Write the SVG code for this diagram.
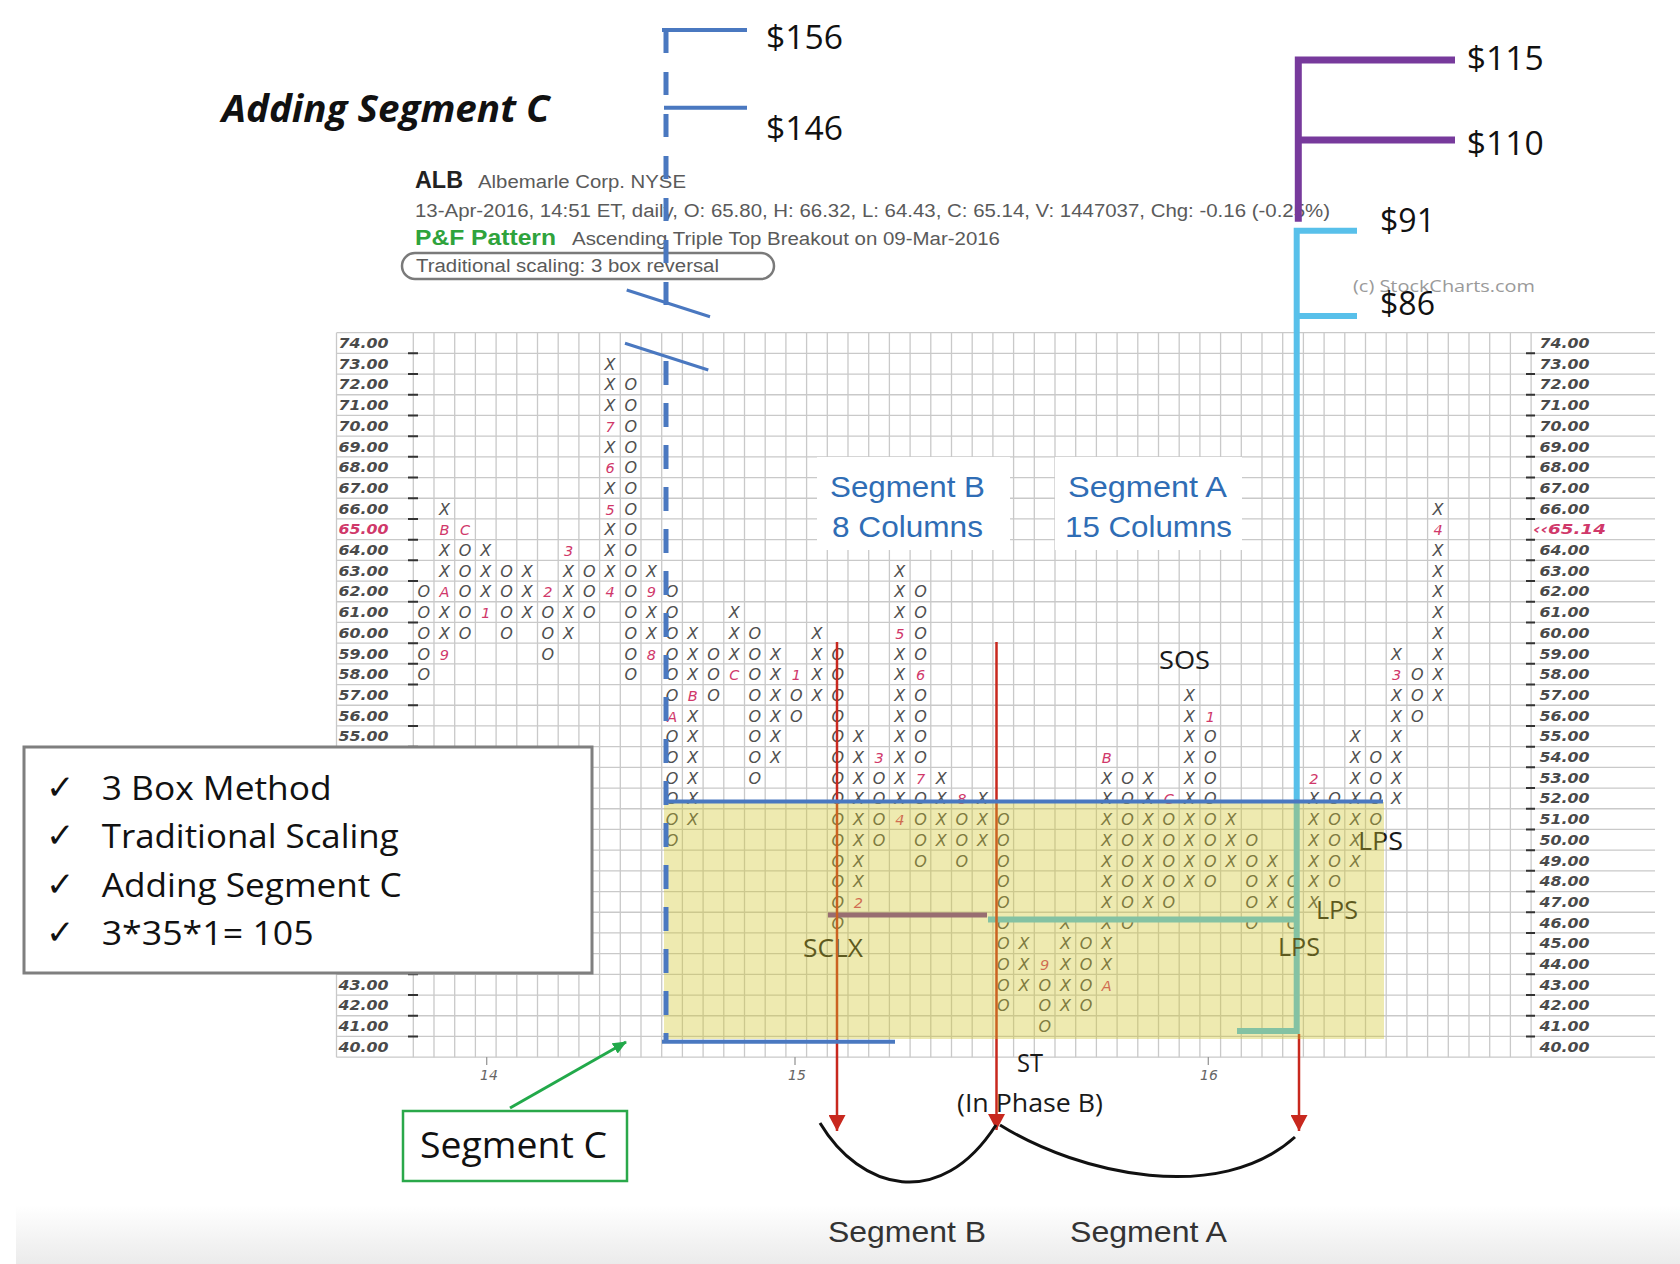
<svg xmlns="http://www.w3.org/2000/svg" width="1680" height="1264" viewBox="0 0 1680 1264">
<defs>
<style>
.g{font-family:"DejaVu Sans",sans-serif;font-style:italic;font-size:16px;fill:#505050;text-anchor:middle}
.rt{font-size:14.5px;fill:#d0386a}
.ax{font-family:"DejaVu Sans",sans-serif;font-style:italic;font-weight:bold;font-size:14px;fill:#4a4a4a}
.axr{font-family:"DejaVu Sans",sans-serif;font-style:italic;font-weight:bold;font-size:14px;fill:#d0386a}
.hd{font-family:"Liberation Sans",Arial,sans-serif;font-size:18px;fill:#5a5a5a}
.cal{font-family:"Open Sans","Noto Sans","Liberation Sans",sans-serif;fill:#111}
.hel{font-family:"Liberation Sans",Arial,sans-serif}
.seg{font-family:"Liberation Sans",Arial,sans-serif;font-size:30px;fill:#2f6db5}
.dl{font-family:"Open Sans","Noto Sans","Liberation Sans",sans-serif;font-size:32px;fill:#111}
.lb{font-family:"Open Sans","Noto Sans","Liberation Sans",sans-serif;font-size:25px;fill:#1a1a1a}
.xl{font-family:"DejaVu Sans",sans-serif;font-style:italic;font-size:14px;fill:#666}
.ck{font-family:"DejaVu Sans",sans-serif;font-size:34px;font-weight:bold;fill:#111}
</style>
<linearGradient id="band" x1="0" y1="0" x2="0" y2="1"><stop offset="0" stop-color="#ffffff"/><stop offset="1" stop-color="#ebebeb"/></linearGradient>
<marker id="ar" markerUnits="userSpaceOnUse" markerWidth="16" markerHeight="17" viewBox="0 0 16 17" refX="16" refY="8.5" orient="auto"><path d="M0 0L16 8.5L0 17z" fill="#c8281e"/></marker>
<marker id="ag" markerUnits="userSpaceOnUse" markerWidth="14" markerHeight="12" viewBox="0 0 14 12" refX="13" refY="6" orient="auto"><path d="M0 0L14 6L0 12z" fill="#22a94a"/></marker>
</defs>
<rect width="1680" height="1264" fill="#ffffff"/>
<rect x="16" y="1205" width="1664" height="59" fill="url(#band)"/>

<g id="title"><text class="cal" x="221.7" y="121.7" font-size="38" font-weight="bold" font-style="italic" textLength="328" lengthAdjust="spacingAndGlyphs">Adding Segment C</text></g>

<g id="header">
<text class="hel" x="415" y="188" font-size="23" font-weight="bold" fill="#222" textLength="48" lengthAdjust="spacingAndGlyphs">ALB</text>
<text class="hd" x="478" y="188" textLength="208" lengthAdjust="spacingAndGlyphs">Albemarle Corp.  NYSE</text>
<text class="hd" x="415" y="216.7" textLength="915" lengthAdjust="spacingAndGlyphs">13-Apr-2016, 14:51 ET, daily, O: 65.80, H: 66.32, L: 64.43, C: 65.14, V: 1447037, Chg: -0.16 (-0.25%)</text>
<text class="hel" x="415" y="245" font-size="22" font-weight="bold" fill="#2fa33c" textLength="141" lengthAdjust="spacingAndGlyphs">P&amp;F Pattern</text>
<text class="hd" x="572" y="245" textLength="428" lengthAdjust="spacingAndGlyphs">Ascending Triple Top Breakout on 09-Mar-2016</text>
<rect x="402" y="253" width="372" height="26" rx="13" fill="none" stroke="#7a7a7a" stroke-width="2.5"/>
<text class="hd" x="416" y="272" textLength="303" lengthAdjust="spacingAndGlyphs">Traditional scaling: 3 box reversal</text>
<text class="cal" x="1353" y="291.7" font-size="17" style="fill:#9a9a9a" textLength="182" lengthAdjust="spacingAndGlyphs">(c) StockCharts.com</text>
</g>

<g id="grid" fill="none" stroke="#c9c9c9" stroke-width="1.3">
<path d="M336.5 332.65H1655M336.5 353.35H1655M336.5 374.05H1655M336.5 394.75H1655M336.5 415.45H1655M336.5 436.15H1655M336.5 456.85H1655M336.5 477.55H1655M336.5 498.25H1655M336.5 518.95H1655M336.5 539.65H1655M336.5 560.35H1655M336.5 581.05H1655M336.5 601.75H1655M336.5 622.45H1655M336.5 643.15H1655M336.5 663.85H1655M336.5 684.55H1655M336.5 705.25H1655M336.5 725.95H1655M336.5 746.65H1655M336.5 767.35H1655M336.5 788.05H1655M336.5 808.75H1655M336.5 829.45H1655M336.5 850.15H1655M336.5 870.85H1655M336.5 891.55H1655M336.5 912.25H1655M336.5 932.95H1655M336.5 953.65H1655M336.5 974.35H1655M336.5 995.05H1655M336.5 1015.75H1655M336.5 1036.45H1655M336.5 1057.15H1655"/>
<path d="M336.5 332.65V1057.15M413.3 332.65V1057.15M434 332.65V1057.15M454.7 332.65V1057.15M475.4 332.65V1057.15M496.1 332.65V1057.15M516.8 332.65V1057.15M537.5 332.65V1057.15M558.2 332.65V1057.15M578.9 332.65V1057.15M599.6 332.65V1057.15M620.3 332.65V1057.15M641 332.65V1057.15M661.7 332.65V1057.15M682.4 332.65V1057.15M703.1 332.65V1057.15M723.8 332.65V1057.15M744.5 332.65V1057.15M765.2 332.65V1057.15M785.9 332.65V1057.15M806.6 332.65V1057.15M827.3 332.65V1057.15M848 332.65V1057.15M868.7 332.65V1057.15M889.4 332.65V1057.15M910.1 332.65V1057.15M930.8 332.65V1057.15M951.5 332.65V1057.15M972.2 332.65V1057.15M992.9 332.65V1057.15M1013.6 332.65V1057.15M1034.3 332.65V1057.15M1055 332.65V1057.15M1075.7 332.65V1057.15M1096.4 332.65V1057.15M1117.1 332.65V1057.15M1137.8 332.65V1057.15M1158.5 332.65V1057.15M1179.2 332.65V1057.15M1199.9 332.65V1057.15M1220.6 332.65V1057.15M1241.3 332.65V1057.15M1262 332.65V1057.15M1282.7 332.65V1057.15M1303.4 332.65V1057.15M1324.1 332.65V1057.15M1344.8 332.65V1057.15M1365.5 332.65V1057.15M1386.2 332.65V1057.15M1406.9 332.65V1057.15M1427.6 332.65V1057.15M1448.3 332.65V1057.15M1469 332.65V1057.15M1489.7 332.65V1057.15M1510.4 332.65V1057.15M1531.1 332.65V1057.15"/>
<path stroke="#333" stroke-width="2" d="M408 353.35h10M408 374.05h10M408 394.75h10M408 415.45h10M408 436.15h10M408 456.85h10M408 477.55h10M408 498.25h10M408 518.95h10M408 539.65h10M408 560.35h10M408 581.05h10M408 601.75h10M408 622.45h10M408 643.15h10M408 663.85h10M408 684.55h10M408 705.25h10M408 725.95h10M408 746.65h10M408 767.35h10M408 788.05h10M408 808.75h10M408 829.45h10M408 850.15h10M408 870.85h10M408 891.55h10M408 912.25h10M408 932.95h10M408 953.65h10M408 974.35h10M408 995.05h10M408 1015.75h10M408 1036.45h10"/>
<path stroke="#333" stroke-width="2" d="M1526 353.35h9M1526 374.05h9M1526 394.75h9M1526 415.45h9M1526 436.15h9M1526 456.85h9M1526 477.55h9M1526 498.25h9M1526 518.95h9M1526 539.65h9M1526 560.35h9M1526 581.05h9M1526 601.75h9M1526 622.45h9M1526 643.15h9M1526 663.85h9M1526 684.55h9M1526 705.25h9M1526 725.95h9M1526 746.65h9M1526 767.35h9M1526 788.05h9M1526 808.75h9M1526 829.45h9M1526 850.15h9M1526 870.85h9M1526 891.55h9M1526 912.25h9M1526 932.95h9M1526 953.65h9M1526 974.35h9M1526 995.05h9M1526 1015.75h9M1526 1036.45h9"/>
<path stroke="#999" stroke-width="1.3" d="M486.7 1057V1065M795 1057V1065M1208.3 1057V1065"/>
</g>

<g id="x-axis-labels">
<text class="xl" x="480" y="1080">14</text>
<text class="xl" x="788" y="1080">15</text>
<text class="xl" x="1200" y="1080">16</text>
</g>

<g id="axis-left">
<text class="ax" x="338.5" y="348" textLength="50" lengthAdjust="spacingAndGlyphs">74.00</text>
<text class="ax" x="338.5" y="368.7" textLength="50" lengthAdjust="spacingAndGlyphs">73.00</text>
<text class="ax" x="338.5" y="389.4" textLength="50" lengthAdjust="spacingAndGlyphs">72.00</text>
<text class="ax" x="338.5" y="410.1" textLength="50" lengthAdjust="spacingAndGlyphs">71.00</text>
<text class="ax" x="338.5" y="430.8" textLength="50" lengthAdjust="spacingAndGlyphs">70.00</text>
<text class="ax" x="338.5" y="451.5" textLength="50" lengthAdjust="spacingAndGlyphs">69.00</text>
<text class="ax" x="338.5" y="472.2" textLength="50" lengthAdjust="spacingAndGlyphs">68.00</text>
<text class="ax" x="338.5" y="492.9" textLength="50" lengthAdjust="spacingAndGlyphs">67.00</text>
<text class="ax" x="338.5" y="513.6" textLength="50" lengthAdjust="spacingAndGlyphs">66.00</text>
<text class="axr" x="338.5" y="534.3" textLength="50" lengthAdjust="spacingAndGlyphs">65.00</text>
<text class="ax" x="338.5" y="555" textLength="50" lengthAdjust="spacingAndGlyphs">64.00</text>
<text class="ax" x="338.5" y="575.7" textLength="50" lengthAdjust="spacingAndGlyphs">63.00</text>
<text class="ax" x="338.5" y="596.4" textLength="50" lengthAdjust="spacingAndGlyphs">62.00</text>
<text class="ax" x="338.5" y="617.1" textLength="50" lengthAdjust="spacingAndGlyphs">61.00</text>
<text class="ax" x="338.5" y="637.8" textLength="50" lengthAdjust="spacingAndGlyphs">60.00</text>
<text class="ax" x="338.5" y="658.5" textLength="50" lengthAdjust="spacingAndGlyphs">59.00</text>
<text class="ax" x="338.5" y="679.2" textLength="50" lengthAdjust="spacingAndGlyphs">58.00</text>
<text class="ax" x="338.5" y="699.9" textLength="50" lengthAdjust="spacingAndGlyphs">57.00</text>
<text class="ax" x="338.5" y="720.6" textLength="50" lengthAdjust="spacingAndGlyphs">56.00</text>
<text class="ax" x="338.5" y="741.3" textLength="50" lengthAdjust="spacingAndGlyphs">55.00</text>
<text class="ax" x="338.5" y="989.7" textLength="50" lengthAdjust="spacingAndGlyphs">43.00</text>
<text class="ax" x="338.5" y="1010.4" textLength="50" lengthAdjust="spacingAndGlyphs">42.00</text>
<text class="ax" x="338.5" y="1031.1" textLength="50" lengthAdjust="spacingAndGlyphs">41.00</text>
<text class="ax" x="338.5" y="1051.8" textLength="50" lengthAdjust="spacingAndGlyphs">40.00</text>
</g>

<g id="axis-right">
<text class="ax" x="1539.5" y="348" textLength="50" lengthAdjust="spacingAndGlyphs">74.00</text>
<text class="ax" x="1539.5" y="368.7" textLength="50" lengthAdjust="spacingAndGlyphs">73.00</text>
<text class="ax" x="1539.5" y="389.4" textLength="50" lengthAdjust="spacingAndGlyphs">72.00</text>
<text class="ax" x="1539.5" y="410.1" textLength="50" lengthAdjust="spacingAndGlyphs">71.00</text>
<text class="ax" x="1539.5" y="430.8" textLength="50" lengthAdjust="spacingAndGlyphs">70.00</text>
<text class="ax" x="1539.5" y="451.5" textLength="50" lengthAdjust="spacingAndGlyphs">69.00</text>
<text class="ax" x="1539.5" y="472.2" textLength="50" lengthAdjust="spacingAndGlyphs">68.00</text>
<text class="ax" x="1539.5" y="492.9" textLength="50" lengthAdjust="spacingAndGlyphs">67.00</text>
<text class="ax" x="1539.5" y="513.6" textLength="50" lengthAdjust="spacingAndGlyphs">66.00</text>
<text class="axr" x="1533" y="534.3" textLength="73" lengthAdjust="spacingAndGlyphs">‹‹65.14</text>
<text class="ax" x="1539.5" y="555" textLength="50" lengthAdjust="spacingAndGlyphs">64.00</text>
<text class="ax" x="1539.5" y="575.7" textLength="50" lengthAdjust="spacingAndGlyphs">63.00</text>
<text class="ax" x="1539.5" y="596.4" textLength="50" lengthAdjust="spacingAndGlyphs">62.00</text>
<text class="ax" x="1539.5" y="617.1" textLength="50" lengthAdjust="spacingAndGlyphs">61.00</text>
<text class="ax" x="1539.5" y="637.8" textLength="50" lengthAdjust="spacingAndGlyphs">60.00</text>
<text class="ax" x="1539.5" y="658.5" textLength="50" lengthAdjust="spacingAndGlyphs">59.00</text>
<text class="ax" x="1539.5" y="679.2" textLength="50" lengthAdjust="spacingAndGlyphs">58.00</text>
<text class="ax" x="1539.5" y="699.9" textLength="50" lengthAdjust="spacingAndGlyphs">57.00</text>
<text class="ax" x="1539.5" y="720.6" textLength="50" lengthAdjust="spacingAndGlyphs">56.00</text>
<text class="ax" x="1539.5" y="741.3" textLength="50" lengthAdjust="spacingAndGlyphs">55.00</text>
<text class="ax" x="1539.5" y="762" textLength="50" lengthAdjust="spacingAndGlyphs">54.00</text>
<text class="ax" x="1539.5" y="782.7" textLength="50" lengthAdjust="spacingAndGlyphs">53.00</text>
<text class="ax" x="1539.5" y="803.4" textLength="50" lengthAdjust="spacingAndGlyphs">52.00</text>
<text class="ax" x="1539.5" y="824.1" textLength="50" lengthAdjust="spacingAndGlyphs">51.00</text>
<text class="ax" x="1539.5" y="844.8" textLength="50" lengthAdjust="spacingAndGlyphs">50.00</text>
<text class="ax" x="1539.5" y="865.5" textLength="50" lengthAdjust="spacingAndGlyphs">49.00</text>
<text class="ax" x="1539.5" y="886.2" textLength="50" lengthAdjust="spacingAndGlyphs">48.00</text>
<text class="ax" x="1539.5" y="906.9" textLength="50" lengthAdjust="spacingAndGlyphs">47.00</text>
<text class="ax" x="1539.5" y="927.6" textLength="50" lengthAdjust="spacingAndGlyphs">46.00</text>
<text class="ax" x="1539.5" y="948.3" textLength="50" lengthAdjust="spacingAndGlyphs">45.00</text>
<text class="ax" x="1539.5" y="969" textLength="50" lengthAdjust="spacingAndGlyphs">44.00</text>
<text class="ax" x="1539.5" y="989.7" textLength="50" lengthAdjust="spacingAndGlyphs">43.00</text>
<text class="ax" x="1539.5" y="1010.4" textLength="50" lengthAdjust="spacingAndGlyphs">42.00</text>
<text class="ax" x="1539.5" y="1031.1" textLength="50" lengthAdjust="spacingAndGlyphs">41.00</text>
<text class="ax" x="1539.5" y="1051.8" textLength="50" lengthAdjust="spacingAndGlyphs">40.00</text>
</g>

<g id="segment-count-labels">
<rect x="817" y="457" width="193" height="93" fill="#ffffff"/>
<rect x="1055" y="457" width="187" height="93" fill="#ffffff"/>
<text class="seg" x="830" y="497" textLength="155" lengthAdjust="spacingAndGlyphs">Segment B</text>
<text class="seg" x="832" y="537" textLength="151" lengthAdjust="spacingAndGlyphs">8 Columns</text>
<text class="seg" x="1068" y="497" textLength="159" lengthAdjust="spacingAndGlyphs">Segment A</text>
<text class="seg" x="1065" y="537" textLength="167" lengthAdjust="spacingAndGlyphs">15 Columns</text>
</g>

<g id="columns">
<text class="g" y="369.7" x="610">X</text>
<text class="g" y="390.4" x="610 630.7">XO</text>
<text class="g" y="411.1" x="610 630.7">XO</text>
<text class="g" y="431.8" x="630.7">O<tspan class="rt" x="610">7</tspan></text>
<text class="g" y="452.5" x="610 630.7">XO</text>
<text class="g" y="473.2" x="630.7">O<tspan class="rt" x="610">6</tspan></text>
<text class="g" y="493.9" x="610 630.7">XO</text>
<text class="g" y="514.6" x="444.4 630.7 1438">XOX<tspan class="rt" x="610">5</tspan></text>
<text class="g" y="535.3" x="610 630.7">XO<tspan class="rt" x="444.4 465.1 1438">BC4</tspan></text>
<text class="g" y="556" x="444.4 465.1 485.8 610 630.7 1438">XOXXOX<tspan class="rt" x="568.6">3</tspan></text>
<text class="g" y="576.7" x="444.4 465.1 485.8 506.5 527.2 568.6 589.3 610 630.7 651.4 899.8 1438">XOXOXXOXOXXX</text>
<text class="g" y="597.4" x="423.7 465.1 485.8 506.5 527.2 568.6 589.3 630.7 672.1 899.8 920.5 1438">OOXOXXOOOXOX<tspan class="rt" x="444.4 547.9 610 651.4">A249</tspan></text>
<text class="g" y="618.1" x="423.7 444.4 465.1 506.5 527.2 547.9 568.6 589.3 630.7 651.4 672.1 734.2 899.8 920.5 1438">OXOOXOXOOXOXXOX<tspan class="rt" x="485.8">1</tspan></text>
<text class="g" y="638.8" x="423.7 444.4 465.1 506.5 547.9 568.6 630.7 651.4 672.1 692.8 734.2 754.9 817 920.5 1438">OXOOOXOXOXXOXOX<tspan class="rt" x="899.8">5</tspan></text>
<text class="g" y="659.5" x="423.7 547.9 630.7 672.1 692.8 713.5 734.2 754.9 775.6 817 837.7 899.8 920.5 1396.6 1438">OOOOXOXOXXOXOXX<tspan class="rt" x="444.4 651.4">98</tspan></text>
<text class="g" y="680.2" x="423.7 630.7 672.1 692.8 713.5 754.9 775.6 817 837.7 899.8 1417.3 1438">OOOXOOXXOXOX<tspan class="rt" x="734.2 796.3 920.5 1396.6">C163</tspan></text>
<text class="g" y="700.9" x="672.1 713.5 754.9 775.6 796.3 817 837.7 899.8 920.5 1189.6 1396.6 1417.3 1438">OOOXOXOXOXXOX<tspan class="rt" x="692.8">B</tspan></text>
<text class="g" y="721.6" x="692.8 754.9 775.6 796.3 837.7 899.8 920.5 1189.6 1396.6 1417.3">XOXOOXOXXO<tspan class="rt" x="672.1 1210.3">A1</tspan></text>
<text class="g" y="742.3" x="672.1 692.8 754.9 775.6 837.7 858.4 899.8 920.5 1189.6 1210.3 1355.2 1396.6">OXOXOXXOXOXX</text>
<text class="g" y="763" x="672.1 692.8 754.9 775.6 837.7 858.4 899.8 920.5 1189.6 1210.3 1355.2 1375.9 1396.6">OXOXOXXOXOXOX<tspan class="rt" x="879.1 1106.8">3B</tspan></text>
<text class="g" y="783.7" x="672.1 692.8 754.9 837.7 858.4 879.1 899.8 941.2 1106.8 1127.5 1148.2 1189.6 1210.3 1355.2 1375.9 1396.6">OXOOXOXXXOXXOXOX<tspan class="rt" x="920.5 1313.8">72</tspan></text>
<text class="g" y="804.4" x="672.1 692.8 837.7 858.4 879.1 899.8 920.5 941.2 982.6 1106.8 1127.5 1148.2 1189.6 1210.3 1313.8 1334.5 1355.2 1375.9 1396.6">OXOXOXOXXXOXXOXOXOX<tspan class="rt" x="961.9 1168.9">8C</tspan></text>
<text class="g" y="825.1" x="672.1 692.8 837.7 858.4 879.1 920.5 941.2 961.9 982.6 1003.3 1106.8 1127.5 1148.2 1168.9 1189.6 1210.3 1231 1313.8 1334.5 1355.2 1375.9">OXOXOOXOXOXOXOXOXXOXO<tspan class="rt" x="899.8">4</tspan></text>
<text class="g" y="845.8" x="672.1 837.7 858.4 879.1 920.5 941.2 961.9 982.6 1003.3 1106.8 1127.5 1148.2 1168.9 1189.6 1210.3 1231 1251.7 1313.8 1334.5 1355.2">OOXOOXOXOXOXOXOXOXOX</text>
<text class="g" y="866.5" x="837.7 858.4 920.5 961.9 1003.3 1106.8 1127.5 1148.2 1168.9 1189.6 1210.3 1231 1251.7 1272.4 1313.8 1334.5 1355.2">OXOOOXOXOXOXOXXOX</text>
<text class="g" y="887.2" x="837.7 858.4 1003.3 1106.8 1127.5 1148.2 1168.9 1189.6 1210.3 1251.7 1272.4 1293.1 1313.8 1334.5">OXOXOXOXOOXOXO</text>
<text class="g" y="907.9" x="837.7 1003.3 1106.8 1127.5 1148.2 1168.9 1251.7 1272.4 1293.1 1313.8">OOXOXOOXOX<tspan class="rt" x="858.4">2</tspan></text>
<text class="g" y="928.6" x="837.7 1003.3 1065.4 1106.8 1127.5 1251.7 1293.1">OOXXOOO</text>
<text class="g" y="949.3" x="1003.3 1024 1065.4 1086.1 1106.8">OXXOX</text>
<text class="g" y="970" x="1003.3 1024 1065.4 1086.1 1106.8">OXXOX<tspan class="rt" x="1044.7">9</tspan></text>
<text class="g" y="990.7" x="1003.3 1024 1044.7 1065.4 1086.1">OXOXO<tspan class="rt" x="1106.8">A</tspan></text>
<text class="g" y="1011.4" x="1003.3 1044.7 1065.4 1086.1">OOXO</text>
<text class="g" y="1032.1" x="1044.7">O</text>
</g>

<g id="under-overlay">
<path d="M1357 230.7H1296.7V1031H1237M1296.7 316H1357M988 919.5H1296.7" fill="none" stroke="#58c0ea" stroke-width="6"/>
<path d="M828 915H987" stroke="#773a9c" stroke-width="5"/>
<text class="lb" x="803" y="956.7" textLength="60" lengthAdjust="spacingAndGlyphs">SCLX</text>
<text class="lb" x="1358" y="850" textLength="45" lengthAdjust="spacingAndGlyphs">LPS</text>
<text class="lb" x="1316" y="919" textLength="42" lengthAdjust="spacingAndGlyphs">LPS</text>
<text class="lb" x="1278" y="956" textLength="42" lengthAdjust="spacingAndGlyphs">LPS</text>
<text class="lb" x="1159" y="668.5" textLength="51" lengthAdjust="spacingAndGlyphs">SOS</text>
<text class="lb" x="1017" y="1071.7" textLength="26" lengthAdjust="spacingAndGlyphs">ST</text>
<text class="lb" x="957" y="1111.7" textLength="146" lengthAdjust="spacingAndGlyphs">(In Phase B)</text>
</g>

<g id="connectors">
<path d="M837 642V1131" stroke="#c8281e" stroke-width="2.5" marker-end="url(#ar)"/>
<path d="M996.5 642V1130" stroke="#c8281e" stroke-width="2.5" marker-end="url(#ar)"/>
<path d="M1299 1034V1131" stroke="#c8281e" stroke-width="2.5" marker-end="url(#ar)"/>
<path d="M820 1123C860 1190 940 1212 996 1125" fill="none" stroke="#111" stroke-width="3"/>
<path d="M1000 1125C1080 1175 1220 1205 1295 1137" fill="none" stroke="#111" stroke-width="3"/>
<path d="M510 1108L626 1042" stroke="#22a94a" stroke-width="3" marker-end="url(#ag)"/>
</g>

<g id="segment-c-area">
<rect x="664" y="802" width="720" height="237" fill="#d0c628" fill-opacity="0.37"/>
</g>

<g id="segment-c-lines" fill="none" stroke="#4a78c0" stroke-width="4">
<path d="M664 801.5H1383"/>
<path d="M662 1041.7H895"/>
<path d="M662 30H747M664 107.7H747"/>
<path d="M666 30V305" stroke-width="5" stroke-dasharray="23 19"/>
<path d="M666 361V1041.7" stroke-width="5" stroke-dasharray="24 18"/>
<path d="M626.7 290L710 316.7M625 343.3L708.3 370" stroke-width="3"/>
</g>

<g id="bracket-purple">
<path d="M1455 60H1298.3V221.7M1298.3 140H1455" fill="none" stroke="#773a9c" stroke-width="7"/>
</g>

<g id="price-labels">
<text class="dl" x="766" y="49" textLength="77" lengthAdjust="spacingAndGlyphs">$156</text>
<text class="dl" x="766" y="140" textLength="77" lengthAdjust="spacingAndGlyphs">$146</text>
<text class="dl" x="1466.7" y="70" textLength="77" lengthAdjust="spacingAndGlyphs">$115</text>
<text class="dl" x="1466.7" y="155" textLength="77" lengthAdjust="spacingAndGlyphs">$110</text>
<text class="dl" x="1380" y="231.7" textLength="55" lengthAdjust="spacingAndGlyphs">$91</text>
<text class="dl" x="1380" y="315" textLength="55" lengthAdjust="spacingAndGlyphs">$86</text>
</g>

<g id="checklist">
<rect x="24" y="747" width="568" height="226" fill="#ffffff" stroke="#7f7f7f" stroke-width="3"/>
<text class="ck" x="46" y="799">✓</text>
<text class="ck" x="46" y="847.3">✓</text>
<text class="ck" x="46" y="895.7">✓</text>
<text class="ck" x="46" y="944">✓</text>
<text class="cal" x="101.7" y="800" font-size="33" textLength="230" lengthAdjust="spacingAndGlyphs">3 Box Method</text>
<text class="cal" x="101.7" y="848.3" font-size="33" textLength="297" lengthAdjust="spacingAndGlyphs">Traditional Scaling</text>
<text class="cal" x="101.7" y="896.7" font-size="33" textLength="300" lengthAdjust="spacingAndGlyphs">Adding Segment C</text>
<text class="cal" x="101.7" y="945" font-size="33" textLength="212" lengthAdjust="spacingAndGlyphs">3*35*1= 105</text>
</g>

<g id="segment-c-box">
<rect x="403" y="1111" width="224" height="70" fill="#ffffff" stroke="#2aa84a" stroke-width="2.5"/>
<text class="cal" x="420" y="1158" font-size="37" textLength="187" lengthAdjust="spacingAndGlyphs">Segment C</text>
</g>

<g id="bottom-labels">
<text class="hel" x="828" y="1242" font-size="29" fill="#333" textLength="158" lengthAdjust="spacingAndGlyphs">Segment B</text>
<text class="hel" x="1070" y="1242" font-size="29" fill="#333" textLength="157" lengthAdjust="spacingAndGlyphs">Segment A</text>
</g>
</svg>
